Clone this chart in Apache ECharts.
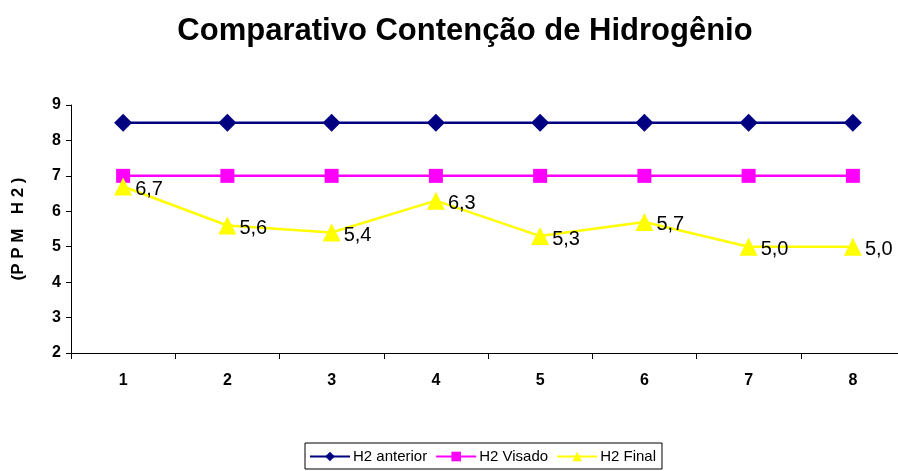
<!DOCTYPE html>
<html><head><meta charset="utf-8">
<script src="https://cdn.jsdelivr.net/npm/echarts@6/dist/echarts.min.js"></script>
<style>html,body{margin:0;padding:0;background:#fff}#c{width:898px;height:471px}</style>
</head><body><div id="c"></div>
<script>
const categories = ['1','2','3','4','5','6','7','8'];
const h2Anterior = [8.5,8.5,8.5,8.5,8.5,8.5,8.5,8.5];
const h2Visado = [7,7,7,7,7,7,7,7];
const h2Final = [6.7,5.6,5.4,6.3,5.3,5.7,5.0,5.0];
const yTicks = [2,3,4,5,6,7,8,9];

const chart = echarts.init(document.getElementById('c'));
const font = '"Liberation Sans", Arial, sans-serif';
chart.setOption({
  animation:false,
  backgroundColor:'#fff',
  title:{text:'Comparativo Contenção de Hidrogênio',left:460,top:11,textAlign:'center',
    textStyle:{fontFamily:font,fontSize:31,fontWeight:'bold',color:'#000'}},
  legend:{bottom:2,left:305,itemGap:8,itemWidth:40,itemHeight:12,
    borderColor:'#000',borderWidth:1,borderRadius:0,padding:[6,6,5,4],
    textStyle:{fontFamily:font,fontSize:15,color:'#000',padding:[0,0,0,-2]},
    data:['H2 anterior','H2 Visado','H2 Final']},
  grid:{left:71,width:834,top:105,bottom:118,containLabel:false,outerBoundsMode:'none'},
  xAxis:{type:'category',data:categories,boundaryGap:true,
    axisLine:{lineStyle:{color:'#000',width:1}},
    axisTick:{show:true,length:6,inside:false,lineStyle:{color:'#000'}},
    axisLabel:{fontFamily:font,fontSize:16,fontWeight:'bold',color:'#000',margin:20}},
  yAxis:{type:'value',min:2,max:9,interval:1,
    name:'(P P M   H 2 )',nameLocation:'middle',nameGap:44,nameRotate:90,
    nameTextStyle:{fontFamily:font,fontSize:17,fontWeight:'bold',color:'#000'},
    splitLine:{show:false},
    axisLine:{show:true,lineStyle:{color:'#000',width:1}},
    axisTick:{show:true,length:5,lineStyle:{color:'#000'}},
    axisLabel:{fontFamily:font,fontSize:16,fontWeight:'bold',color:'#000',margin:10,
      formatter:v=>yTicks.includes(v)?String(v):''}},
  series:[
    {name:'H2 anterior',type:'line',data:h2Anterior,symbol:'diamond',symbolSize:18,
      lineStyle:{color:'#000080',width:2.5},itemStyle:{color:'#000080'}},
    {name:'H2 Visado',type:'line',data:h2Visado,symbol:'rect',symbolSize:14,
      lineStyle:{color:'#ff00ff',width:2.5},itemStyle:{color:'#ff00ff'}},
    {name:'H2 Final',type:'line',data:h2Final,symbol:'triangle',symbolSize:18,
      lineStyle:{color:'#ffff00',width:2.5},itemStyle:{color:'#ffff00'},
      label:{show:true,position:'right',distance:3,offset:[0,3],fontFamily:font,fontSize:20,color:'#000',
        formatter:p=>p.value.toFixed(1).replace('.',',')}}
  ]
});
</script></body></html>
